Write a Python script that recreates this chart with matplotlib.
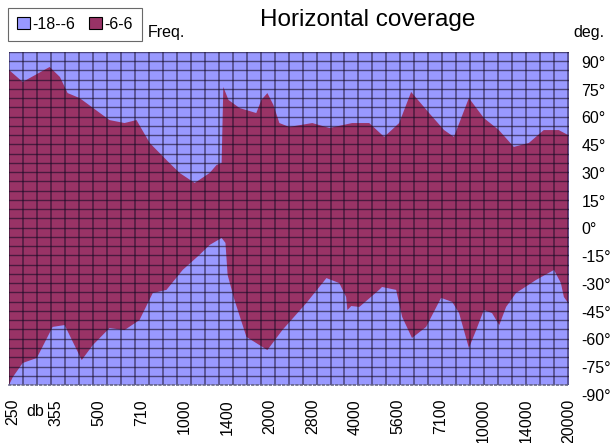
import numpy as np
import matplotlib
matplotlib.use("Agg")
import matplotlib.pyplot as plt
import matplotlib.transforms as mtransforms
from matplotlib.patches import Patch

plt.rcParams['font.family'] = ['Liberation Sans', 'DejaVu Sans']

# frequency bands (category axis) and angle ticks
freqs = ["250", "355", "500", "710", "1000", "1400", "2000", "2800",
         "4000", "5600", "7100", "10000", "14000", "20000"]
deg_ticks = [90, 75, 60, 45, 30, 15, 0, -15, -30, -45, -60, -75, -90]
series_names = ["-18--6", "-6-6"]

# upper edge of the -6..6 dB band (x = band index, y = degrees)
upper_x = [-0.09, 0.23, 0.86, 1.10, 1.28, 1.56, 2.26, 2.61, 2.89, 3.20,
           3.66, 3.90, 4.25, 4.60, 4.76, 4.88, 4.92, 5.04, 5.30, 5.69,
           5.81, 5.95, 6.09, 6.23, 6.46, 7.00, 7.40, 7.93, 8.33, 8.68,
           9.03, 9.31, 9.73, 10.08, 10.31, 10.66, 11.01, 11.36, 11.71, 12.06,
           12.41, 12.76, 12.98]
upper_deg = [80.3, 73.8, 81.9, 76.5, 67.8, 65.1, 53.2, 51.6, 53.2, 40.8,
             30.0, 24.6, 19.2, 24.6, 28.9, 30.0, 71.1, 64.1, 59.7, 57.0,
             64.1, 67.8, 61.4, 51.6, 49.5, 51.6, 48.9, 51.6, 51.6, 44.1,
             51.6, 68.4, 57.0, 47.8, 44.1, 65.1, 54.3, 47.8, 38.7, 40.8,
             47.8, 47.8, 45.1]

# lower edge of the -6..6 dB band
lower_x = [-0.09, 0.00, 0.23, 0.56, 0.93, 1.21, 1.61, 1.87, 2.26, 2.61,
           2.96, 3.27, 3.59, 3.97, 4.36, 4.60, 4.88, 4.97, 5.02, 5.18,
           5.46, 5.95, 6.30, 6.86, 7.33, 7.63, 7.79, 7.82, 7.91, 8.10,
           8.56, 8.63, 8.96, 9.10, 9.33, 9.66, 10.01, 10.27, 10.43, 10.66,
           10.83, 11.01, 11.20, 11.37, 11.53, 11.76, 12.23, 12.65, 12.81, 12.88,
           12.98]
lower_deg = [-90.0, -85.7, -78.1, -75.4, -58.6, -57.6, -76.5, -68.4, -59.2, -60.3,
             -54.9, -40.3, -38.6, -27.8, -19.7, -14.3, -10.5, -13.2, -30.5, -44.0,
             -64.0, -71.1, -60.3, -45.7, -32.2, -34.9, -42.4, -49.5, -47.3, -47.8,
             -38.6, -37.0, -38.6, -53.2, -64.6, -58.6, -42.9, -45.1, -51.1, -70.0,
             -60.3, -49.5, -51.1, -57.6, -47.8, -40.3, -33.2, -27.8, -34.9, -42.4,
             -45.7]

blue = "#9999FF"
maroon = "#993366"

fig = plt.figure(figsize=(6.14, 4.43), dpi=100)
ax = fig.add_axes([9 / 614, 1 - 385 / 443, 560 / 614, 333 / 443])
ax.set_facecolor(blue)

xmin, xmax = -0.09, 12.98
poly_x = np.concatenate([upper_x, lower_x[::-1]])
poly_y = np.concatenate([upper_deg, lower_deg[::-1]])
ax.fill(poly_x, poly_y, color=maroon, lw=0, zorder=1)

# dense dark grid like the surface chart wireframe
for gx in np.linspace(xmin, xmax, 41):
    ax.axvline(gx, color="#140a24", alpha=0.55, lw=1.2, zorder=2)
for gy in np.arange(-90, 91, 5):
    ax.axhline(gy, color="#140a24", alpha=0.6, lw=1.0, zorder=2)

ax.set_xlim(xmin, xmax)
ax.set_ylim(-90, 90)

ax.set_xticks(range(len(freqs)))
ax.set_xticklabels(freqs, rotation=90, fontsize=11.5)
ax.tick_params(axis="x", length=0, pad=10)

ax.yaxis.tick_right()
ax.set_yticks(deg_ticks)
ax.set_yticklabels([f"{d}°" for d in deg_ticks], fontsize=11.5)
ax.tick_params(axis="y", length=0, pad=9)
shift = mtransforms.ScaledTranslation(0, -0.1, fig.dpi_scale_trans)
for t in ax.yaxis.get_major_ticks():
    t.label2.set_transform(t.label2.get_transform() + shift)

for s in ["top", "left", "right"]:
    ax.spines[s].set_visible(False)
ax.spines["bottom"].set_linestyle(":")
ax.spines["bottom"].set_color("#666688")
ax.spines["bottom"].set_linewidth(1.2)

fig.text(368 / 614, 1 - 20 / 443, "Horizontal coverage", fontsize=17.5,
         ha="center", va="center")
fig.text(148 / 614, 1 - 33 / 443, "Freq.", fontsize=11.5, ha="left", va="center")
fig.text(573 / 614, 1 - 33 / 443, "deg.", fontsize=11.5, ha="left", va="center")
fig.text(35 / 614, 1 - 412 / 443, "db", fontsize=11.5, ha="center", va="center")

handles = [Patch(facecolor=blue, edgecolor="black", lw=0.8),
           Patch(facecolor=maroon, edgecolor="black", lw=0.8)]
leg = fig.legend(handles, series_names, loc="upper left",
                 bbox_to_anchor=(8 / 614, 1 - 8 / 443), ncol=2, fontsize=11.5,
                 frameon=True, fancybox=False, handlelength=0.8, handleheight=0.8,
                 handletextpad=0.15, columnspacing=0.9, borderpad=0.55,
                 borderaxespad=0)
leg.get_frame().set_edgecolor("#444444")
leg.get_frame().set_linewidth(0.8)

fig.savefig("out.png", dpi=100)
